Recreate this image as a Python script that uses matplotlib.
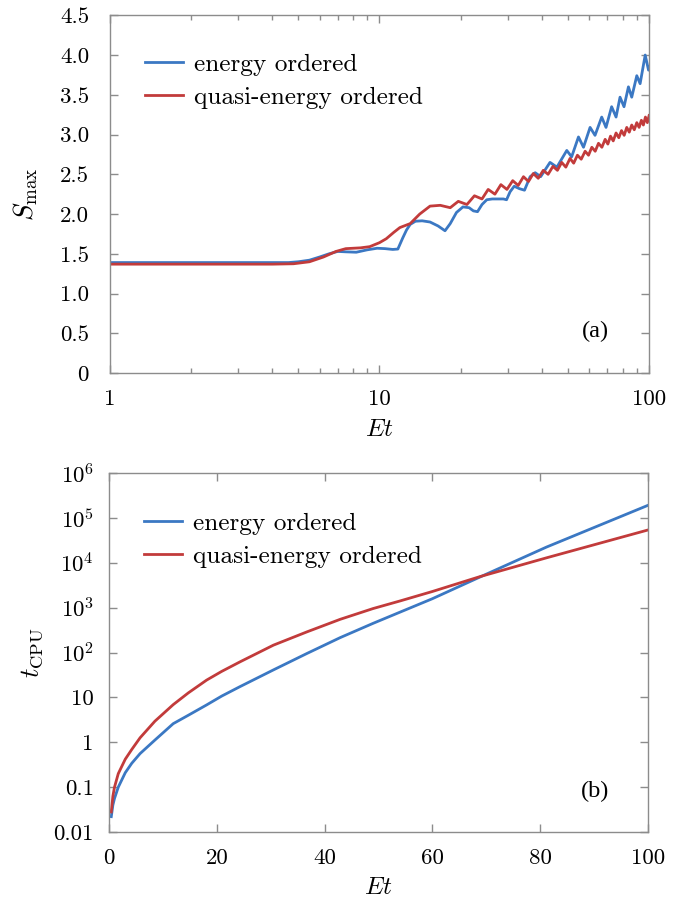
import numpy as np
import matplotlib
matplotlib.use("Agg")
from matplotlib import pyplot as plt
from matplotlib.ticker import FixedLocator, NullLocator, LogLocator, NullFormatter

# Dados (a): S_max em função de Et (escala log)
s_azul_x = [1, 2, 3, 4, 4.6, 5.0, 5.5, 6.0, 6.5, 7.0, 7.5, 8.2, 9.0, 9.8, 10.5,
            11.2, 11.7, 12.2, 12.6, 13.0, 13.6, 14.4, 15.4, 16.5, 17.5,
            18.3, 19.3, 20.4, 21.5, 22.3, 23.1, 24.0, 25.0, 26.2, 27.5,
            28.8, 29.6, 30.5, 31.6, 33.0, 34.5, 36.2, 37.8, 39.6, 42.9,
            45.5, 49.5, 51.6, 54.7, 57.1, 60.4, 63.0, 66.7, 69.2, 72.6,
            75.4, 78.0, 80.7, 83.8, 86.2, 90.0, 92.6, 96.7, 99.5, 100]
s_azul_y = [1.39, 1.39, 1.39, 1.39, 1.39, 1.40, 1.42, 1.46, 1.50, 1.53, 1.525, 1.52, 1.55, 1.57, 1.565,
            1.555, 1.56, 1.70, 1.80, 1.87, 1.91, 1.915, 1.90, 1.85, 1.79,
            1.88, 2.02, 2.09, 2.08, 2.04, 2.03, 2.12, 2.18, 2.19, 2.19,
            2.19, 2.18, 2.28, 2.35, 2.32, 2.30, 2.47, 2.52, 2.47, 2.65,
            2.59, 2.80, 2.72, 2.97, 2.84, 3.09, 2.99, 3.22, 3.09, 3.35,
            3.22, 3.47, 3.35, 3.60, 3.47, 3.74, 3.64, 4.00, 3.81, 3.85]

s_verm_x = [1, 2, 3, 4, 4.8, 5.5, 6.2, 6.9, 7.5, 8.5, 9.2, 10.0, 10.6, 11.3, 11.9,
            13.0, 14.1, 15.4, 16.8, 18.3, 19.6, 21.1, 22.5, 24.0, 25.3,
            26.8, 28.2, 29.7, 31.2, 32.7, 34.2, 35.7, 37.2, 38.8, 40.5,
            42.2, 44.0, 45.7, 47.4, 49.1, 50.9, 52.5, 54.2, 56.0, 57.9,
            59.6, 61.3, 63.1, 64.9, 66.8, 68.7, 70.3, 71.9, 73.6, 75.4,
            77.2, 79.0, 80.8, 82.6, 84.4, 86.2, 88.1, 90.0, 91.8, 93.6,
            95.2, 96.9, 98.5, 100]
s_verm_y = [1.37, 1.37, 1.37, 1.37, 1.375, 1.40, 1.46, 1.53, 1.565, 1.575, 1.59, 1.64, 1.69, 1.77, 1.83,
            1.88, 2.00, 2.10, 2.11, 2.08, 2.16, 2.12, 2.23, 2.19, 2.31,
            2.25, 2.37, 2.31, 2.42, 2.36, 2.47, 2.41, 2.51, 2.45, 2.55,
            2.50, 2.60, 2.55, 2.65, 2.59, 2.70, 2.64, 2.74, 2.69, 2.79,
            2.74, 2.84, 2.79, 2.89, 2.84, 2.94, 2.88, 2.98, 2.92, 3.02,
            2.96, 3.05, 2.99, 3.09, 3.03, 3.12, 3.06, 3.15, 3.09, 3.18,
            3.12, 3.22, 3.15, 3.24]

# Dados (b): tempo de CPU
cpu_x = [0.4, 0.7, 1.0, 1.7, 3.0, 4.2, 5.75, 8.5, 11.9, 14.7, 18.1, 20.9,
         24.3, 30.5, 36.7, 42.9, 49.0, 54.0, 60.0, 68.8, 81.2, 100]
cpu_azul = [0.022, 0.04, 0.056, 0.10, 0.21, 0.34, 0.56, 1.12, 2.6, 4.0, 6.8, 10.7,
            17.4, 41, 95, 215, 447, 794, 1580, 4790, 22400, 1.9e5]
cpu_verm = [0.028, 0.063, 0.10, 0.20, 0.42, 0.69, 1.26, 2.95, 6.9, 12.6, 24.3, 38,
            62, 146, 288, 550, 955, 1410, 2290, 4900, 12900, 53700]

rotulos = ['energy ordered', 'quasi-energy ordered']
ticks_s = [0, 0.5, 1.0, 1.5, 2.0, 2.5, 3.0, 3.5, 4.0, 4.5]
ticks_s_txt = ['0', '0.5', '1.0', '1.5', '2.0', '2.5', '3.0', '3.5', '4.0', '4.5']
ticks_cpu = [0.01, 0.1, 1, 10, 1e2, 1e3, 1e4, 1e5, 1e6]
ticks_cpu_txt = ['0.01', '0.1', '1', '10', r'$10^2$', r'$10^3$', r'$10^4$', r'$10^5$', r'$10^6$']
ticks_et = [0, 20, 40, 60, 80, 100]

azul = '#3b78c3'
verm = '#c23b3b'
cinza = '#8c8c8c'

plt.rcParams['font.family'] = 'cmr10'
plt.rcParams['mathtext.fontset'] = 'cm'
plt.rcParams['axes.formatter.use_mathtext'] = True
plt.rcParams['font.size'] = 16.5

fig = plt.figure(figsize=(6.95, 8.99), dpi=100)
ax1 = fig.add_axes([0.158, 0.585, 0.776, 0.398])
ax2 = fig.add_axes([0.157, 0.0745, 0.775, 0.3993])


def estilo(ax, pad_y):
    for sp in ax.spines.values():
        sp.set_color(cinza)
        sp.set_linewidth(1.0)
    ax.tick_params(which='both', direction='in', top=True, right=True, color=cinza, width=1.0)
    ax.tick_params(which='major', length=5.5)
    ax.tick_params(which='minor', length=3.5)
    ax.tick_params(axis='y', pad=pad_y)
    ax.tick_params(axis='x', pad=12)


def legenda(ax, y0):
    ax.legend(loc='upper left', bbox_to_anchor=(0.065, y0), frameon=False,
              borderpad=0, borderaxespad=0, handlelength=1.5, handletextpad=0.45,
              labelspacing=0.42, fontsize=18.2)


# (a)
ax1.plot(s_azul_x, s_azul_y, color=azul, lw=2.0, label=rotulos[0])
ax1.plot(s_verm_x, s_verm_y, color=verm, lw=2.0, label=rotulos[1])
ax1.set_xscale('log')
ax1.set_xlim(1, 100)
ax1.set_ylim(0, 4.5)
ax1.xaxis.set_major_locator(FixedLocator([1, 10, 100]))
ax1.set_xticklabels(['1', '10', '100'])
ax1.xaxis.set_minor_locator(LogLocator(base=10, subs=np.arange(2, 10)))
ax1.xaxis.set_minor_formatter(NullFormatter())
ax1.set_yticks(ticks_s)
ax1.set_yticklabels(ticks_s_txt)
estilo(ax1, 15)
ax1.set_xlabel(r'$Et$', fontsize=18, labelpad=7)
ax1.set_ylabel(r'$S_{\rm max}$', fontsize=19.5, labelpad=14)
legenda(ax1, 0.894)
ax1.text(0.90, 0.115, '(a)', transform=ax1.transAxes, ha='center', va='center',
         fontsize=17.5, family='Liberation Serif')

# (b)
ax2.plot(cpu_x, cpu_azul, color=azul, lw=2.0, label=rotulos[0])
ax2.plot(cpu_x, cpu_verm, color=verm, lw=2.0, label=rotulos[1])
ax2.set_yscale('log')
ax2.set_xlim(0, 100)
ax2.set_ylim(0.01, 1e6)
ax2.set_xticks(ticks_et)
ax2.set_xticklabels([str(t) for t in ticks_et])
ax2.yaxis.set_major_locator(FixedLocator(ticks_cpu))
ax2.set_yticklabels(ticks_cpu_txt)
ax2.yaxis.set_minor_locator(NullLocator())
estilo(ax2, 11)
ax2.set_xlabel(r'$Et$', fontsize=18, labelpad=6)
ax2.set_ylabel(r'$t_{\rm CPU}$', fontsize=19, labelpad=6)
legenda(ax2, 0.892)
ax2.text(0.903, 0.112, '(b)', transform=ax2.transAxes, ha='center', va='center',
         fontsize=17.5, family='Liberation Serif')

plt.savefig('out.png', dpi=100)
